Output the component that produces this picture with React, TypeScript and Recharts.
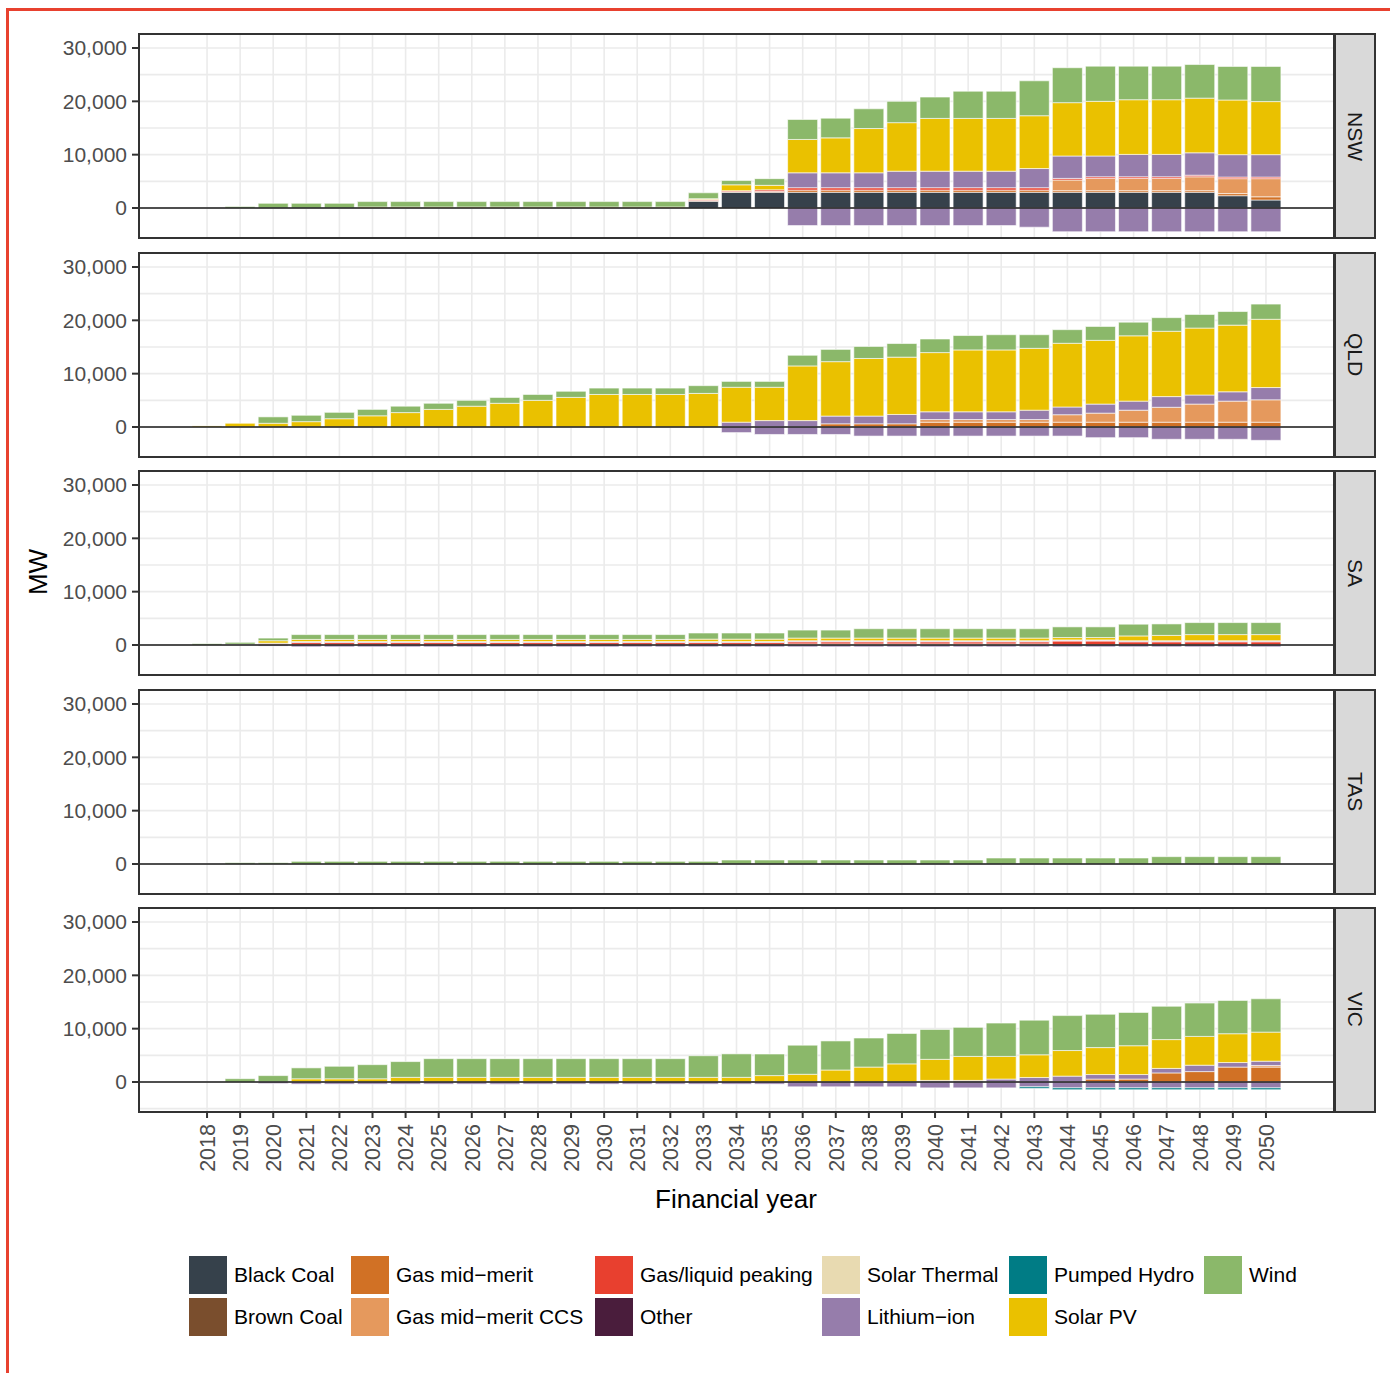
import React from 'react';
import {
  BarChart,
  Bar,
  XAxis,
  YAxis,
  CartesianGrid,
  ReferenceLine,
} from 'recharts';

// financial years 2018..2050
const YEARS = [
  2018, 2019, 2020, 2021, 2022, 2023, 2024, 2025, 2026, 2027, 2028,
  2029, 2030, 2031, 2032, 2033, 2034, 2035, 2036, 2037, 2038, 2039,
  2040, 2041, 2042, 2043, 2044, 2045, 2046, 2047, 2048, 2049, 2050,
];

const Z11 = [0, 0, 0, 0, 0, 0, 0, 0, 0, 0, 0];

// ---- NSW (MW) ----
const nswBlackCoal = [
  ...Z11,
  0, 0, 0, 0, 1250, 2950, 2950, 2950, 2950, 2950, 2950,
  2950, 2950, 2950, 2950, 2950, 2950, 2950, 2950, 2950, 2300, 1500,
];
const nswGasMid = [
  ...Z11,
  0, 0, 0, 0, 150, 100, 150, 400, 400, 400, 400,
  400, 400, 400, 400, 300, 300, 300, 300, 300, 400, 600,
];
const nswGasCcs = [
  ...Z11, ...Z11,
  0, 0, 0, 0, 2000, 2300, 2300, 2300, 2600, 2800, 3400,
];
const nswPeaking = [
  ...Z11,
  0, 0, 0, 0, 200, 200, 300, 450, 450, 450, 450,
  450, 450, 450, 450, 300, 300, 300, 300, 300, 300, 300,
];
const nswLithium = [
  ...Z11,
  0, 0, 0, 0, 0, 0, 0, 2800, 2800, 2800, 3100,
  3100, 3100, 3100, 3600, 4200, 3900, 4200, 4200, 4200, 4200, 4200,
];
const nswSolarPv = [
  0, 0, 0, 0, 0, 200, 200, 200, 200, 200, 200,
  200, 200, 200, 200, 150, 1100, 850, 6250, 6550, 8300, 9100,
  9900, 9900, 9900, 9900, 10000, 10250, 10250, 10250, 10250, 10250, 9950,
];
const nswWind = [
  0, 300, 875, 875, 875, 1000, 1000, 1000, 1000, 1000, 1000,
  1000, 1000, 1000, 1000, 1100, 800, 1250, 3750, 3700, 3700, 4000,
  4000, 5100, 5100, 6550, 6550, 6600, 6300, 6300, 6300, 6300, 6600,
];
const nswLithiumNeg = [
  ...Z11,
  0, 0, 0, 0, 0, 0, 0, -3300, -3300, -3300, -3300,
  -3300, -3300, -3300, -3600, -4450, -4450, -4450, -4450, -4450, -4450, -4450,
];

// ---- QLD ----
const qldGasMid = [
  ...Z11,
  0, 0, 0, 0, 0, 0, 0, 0, 600, 600, 600,
  900, 900, 900, 900, 900, 900, 900, 900, 900, 900, 900,
];
const qldGasCcs = [
  ...Z11, ...Z11,
  500, 500, 500, 500, 1400, 1700, 2250, 2800, 3400, 3950, 4200,
];
const qldLithium = [
  ...Z11,
  0, 0, 0, 0, 0, 900, 1200, 1200, 1450, 1450, 1750,
  1450, 1450, 1450, 1750, 1450, 1700, 1700, 2000, 1700, 1750, 2300,
];
const qldSolarPv = [
  200, 700, 700, 1000, 1550, 2100, 2700, 3300, 3900, 4450, 5000,
  5550, 6100, 6100, 6100, 6300, 6550, 6250, 10250, 10200, 10800, 10750,
  11100, 11600, 11600, 11600, 11950, 11950, 12250, 12250, 12550, 12500, 12800,
];
const qldWind = [
  0, 0, 1200, 1200, 1200, 1200, 1200, 1150, 1100, 1100, 1100,
  1150, 1200, 1200, 1200, 1450, 1100, 1100, 2000, 2300, 2250, 2550,
  2550, 2700, 2850, 2550, 2550, 2600, 2550, 2550, 2550, 2550, 2850,
];
const qldLithiumNeg = [
  ...Z11,
  0, 0, 0, 0, 0, -1050, -1400, -1400, -1400, -1700, -1700,
  -1700, -1700, -1700, -1700, -1700, -2000, -2000, -2300, -2300, -2300, -2500,
];

// ---- SA ----
const saPeaking = [
  0, 0, 200, 450, 450, 450, 450, 450, 450, 450, 450,
  450, 450, 450, 450, 450, 450, 450, 400, 400, 400, 400,
  400, 400, 400, 400, 750, 750, 600, 600, 600, 600, 600,
];
const saOther = [
  0, 0, 0, 100, 100, 100, 100, 100, 100, 100, 100,
  100, 100, 100, 100, 100, 100, 100, 100, 100, 100, 100,
  100, 100, 100, 100, 100, 100, 100, 100, 100, 100, 100,
];
const saGasCcs = [
  ...Z11,
  0, 0, 0, 0, 0, 0, 0, 200, 200, 200, 200,
  200, 200, 200, 200, 0, 0, 0, 0, 0, 0, 0,
];
const saLithium = [
  0, 150, 150, 100, 100, 100, 100, 100, 100, 100, 100,
  100, 100, 100, 100, 100, 100, 100, 100, 100, 100, 100,
  100, 100, 100, 100, 100, 100, 100, 100, 100, 100, 100,
];
const saSolarPv = [
  0, 0, 450, 400, 400, 400, 400, 400, 400, 400, 400,
  400, 400, 400, 400, 450, 450, 450, 500, 500, 500, 500,
  500, 500, 500, 500, 450, 450, 900, 1000, 1150, 1150, 1150,
];
const saWind = [
  250, 350, 500, 900, 900, 900, 900, 900, 900, 900, 900,
  900, 900, 900, 900, 1150, 1150, 1150, 1500, 1500, 1750, 1750,
  1750, 1750, 1750, 1750, 2000, 2000, 2200, 2150, 2250, 2250, 2250,
];
const saLithiumNeg = [
  0, 0, -200, -350, -350, -350, -350, -350, -350, -350, -350,
  -350, -350, -350, -350, -350, -350, -350, -350, -350, -350, -350,
  -350, -350, -350, -350, -350, -350, -350, -350, -350, -350, -350,
];

// ---- TAS ----
const tasWind = [
  0, 250, 250, 500, 500, 500, 500, 500, 500, 500, 500,
  500, 500, 500, 500, 500, 750, 750, 750, 750, 750, 750,
  750, 750, 1125, 1125, 1125, 1125, 1125, 1375, 1375, 1375, 1375,
];

// ---- VIC ----
const vicGasMid = [
  ...Z11, ...Z11,
  0, 0, 0, 0, 0, 550, 550, 1700, 1950, 2800, 2800,
];
const vicGasCcs = [
  ...Z11, ...Z11,
  0, 0, 0, 0, 0, 0, 0, 0, 0, 0, 300,
];
const vicLithium = [
  ...Z11, ...Z11,
  300, 300, 550, 850, 1100, 850, 850, 850, 1200, 850, 800,
];
const vicSolarPv = [
  0, 0, 0, 600, 600, 600, 875, 875, 875, 875, 875,
  875, 875, 875, 875, 875, 875, 1200, 1450, 2250, 2800, 3400,
  3950, 4500, 4250, 4250, 4800, 5050, 5400, 5400, 5400, 5400, 5450,
];
const vicWind = [
  0, 625, 1200, 2050, 2350, 2650, 2950, 3500, 3500, 3500, 3500,
  3500, 3500, 3500, 3500, 4050, 4400, 4050, 5450, 5450, 5450, 5700,
  5600, 5450, 6250, 6500, 6550, 6250, 6250, 6250, 6250, 6250, 6250,
];
const vicLithiumNeg = [
  0, 0, -300, -400, -400, -400, -400, -400, -400, -400, -400,
  -400, -400, -400, -400, -400, -400, -400, -900, -900, -900, -900,
  -1100, -1100, -1100, -900, -1100, -1100, -1100, -1100, -1100, -1100, -1100,
];
const vicPumpedNeg = [
  ...Z11, ...Z11,
  0, 0, 0, -300, -350, -350, -350, -350, -350, -350, -350,
];

const SERIES = [
  { key: 'blackCoal', name: 'Black Coal', color: '#36414b' },
  { key: 'brownCoal', name: 'Brown Coal', color: '#7a4e2d' },
  { key: 'gasMid', name: 'Gas mid\u2212merit', color: '#d17125' },
  { key: 'gasCcs', name: 'Gas mid\u2212merit CCS', color: '#e5995d' },
  { key: 'peaking', name: 'Gas/liquid peaking', color: '#e8402f' },
  { key: 'other', name: 'Other', color: '#4a1d3c' },
  { key: 'solarThermal', name: 'Solar Thermal', color: '#e8dab1' },
  { key: 'lithium', name: 'Lithium\u2212ion', color: '#967dab' },
  { key: 'pumped', name: 'Pumped Hydro', color: '#007c85' },
  { key: 'solarPv', name: 'Solar PV', color: '#eac100' },
  { key: 'wind', name: 'Wind', color: '#8bb86a' },
  { key: 'lithiumNeg', name: 'Lithium\u2212ion', color: '#967dab', hidden: true },
  { key: 'pumpedNeg', name: 'Pumped Hydro', color: '#007c85', hidden: true },
];

const makeRows = (s: Record<string, number[]>) =>
  YEARS.map((y, i) => {
    const row: Record<string, number | string> = { year: String(y) };
    SERIES.forEach((ser) => {
      row[ser.key] = s[ser.key] ? s[ser.key][i] : 0;
    });
    return row;
  });

const REGIONS = [
  {
    label: 'NSW',
    rows: makeRows({
      blackCoal: nswBlackCoal, gasMid: nswGasMid, gasCcs: nswGasCcs, peaking: nswPeaking,
      lithium: nswLithium, solarPv: nswSolarPv, wind: nswWind, lithiumNeg: nswLithiumNeg,
    }),
  },
  {
    label: 'QLD',
    rows: makeRows({
      gasMid: qldGasMid, gasCcs: qldGasCcs, lithium: qldLithium, solarPv: qldSolarPv,
      wind: qldWind, lithiumNeg: qldLithiumNeg,
    }),
  },
  {
    label: 'SA',
    rows: makeRows({
      peaking: saPeaking, other: saOther, gasCcs: saGasCcs, lithium: saLithium,
      solarPv: saSolarPv, wind: saWind, lithiumNeg: saLithiumNeg,
    }),
  },
  { label: 'TAS', rows: makeRows({ wind: tasWind }) },
  {
    label: 'VIC',
    rows: makeRows({
      gasMid: vicGasMid, gasCcs: vicGasCcs, lithium: vicLithium, solarPv: vicSolarPv,
      wind: vicWind, lithiumNeg: vicLithiumNeg, pumpedNeg: vicPumpedNeg,
    }),
  },
];

const Y_TICKS = [0, 10000, 20000, 30000];
const GRID_Y = [-5000, 0, 5000, 10000, 15000, 20000, 25000, 30000];

// legend columns (ggplot fills by column, 2 rows)
const LEGEND_COLS = [
  { x: 188, items: ['blackCoal', 'brownCoal'] },
  { x: 350, items: ['gasMid', 'gasCcs'] },
  { x: 594, items: ['peaking', 'other'] },
  { x: 821, items: ['solarThermal', 'lithium'] },
  { x: 1008, items: ['pumped', 'solarPv'] },
  { x: 1203, items: ['wind'] },
];

const PANEL_H = 204;
const PANEL_TOPS = [34, 252.5, 471, 689.5, 908];
const fmt = (v: number) => v.toLocaleString('en-US');

const YearTick = (props: any) => {
  const { x, y, payload } = props;
  return (
    <text
      x={x}
      y={y + 4}
      transform={`rotate(-90, ${x}, ${y + 4})`}
      textAnchor="end"
      dy="0.36em"
      fill="#4d4d4d"
      fontSize={21.5}
    >
      {payload.value}
    </text>
  );
};

const Panel = ({ label, rows, top, showX }: any) => (
  <div style={{ position: 'absolute', left: 0, top }}>
    <BarChart
      width={1334}
      height={showX ? PANEL_H + 70 : PANEL_H}
      data={rows}
      stackOffset="sign"
      barCategoryGap={1.5}
      margin={{ top: 0, right: 0, bottom: 0, left: 0 }}
    >
      <CartesianGrid stroke="#ebebeb" strokeWidth={1.6} horizontalValues={GRID_Y} />
      <XAxis
        dataKey="year"
        hide={!showX}
        height={70}
        interval={0}
        padding={{ left: 51.5, right: 51.5 }}
        axisLine={false}
        tickSize={6}
        tickLine={{ stroke: '#333', strokeWidth: 2 }}
        tick={<YearTick />}
      />
      <YAxis
        width={139}
        type="number"
        domain={[-5625, 32625]}
        allowDataOverflow
        ticks={Y_TICKS}
        tickFormatter={fmt}
        axisLine={false}
        tickSize={7}
        tickMargin={5}
        tickLine={{ stroke: '#333', strokeWidth: 2 }}
        tick={{ fill: '#4d4d4d', fontSize: 21 }}
      />
      {SERIES.map((s) => (
        <Bar
          key={s.key}
          dataKey={s.key}
          stackId="a"
          fill={s.color}
          stroke="#ffffff"
          strokeWidth={0.6}
          isAnimationActive={false}
        />
      ))}
      <ReferenceLine y={0} stroke="#1a1a1a" strokeWidth={1.5} />
    </BarChart>
    <div
      style={{
        position: 'absolute', left: 138, top: -1, width: 1197, height: PANEL_H + 2,
        border: '2px solid #333', boxSizing: 'border-box', pointerEvents: 'none',
      }}
    />
    <div
      style={{
        position: 'absolute', left: 1334, top: -1, width: 42, height: PANEL_H + 2,
        border: '2px solid #333', boxSizing: 'border-box', background: '#d9d9d9',
        display: 'flex', alignItems: 'center', justifyContent: 'center',
      }}
    >
      <span style={{ writingMode: 'vertical-rl', fontSize: 21, color: '#1a1a1a' }}>{label}</span>
    </div>
  </div>
);

export default function App() {
  const byKey: Record<string, any> = {};
  SERIES.forEach((s) => { if (!s.hidden) byKey[s.key] = s; });
  return (
    <div
      style={{
        position: 'absolute', left: 0, top: 0, width: 1390, height: 1373,
        background: '#fff', fontFamily: '"Liberation Sans", Arial, sans-serif', overflow: 'hidden',
      }}
    >
      {/* red frame */}
      <div style={{ position: 'absolute', left: 6, top: 8, width: 1384, height: 3, background: '#e8412f' }} />
      <div style={{ position: 'absolute', left: 6, top: 8, width: 3, height: 1365, background: '#e8412f' }} />

      {REGIONS.map((r, i) => (
        <Panel key={r.label} label={r.label} rows={r.rows} top={PANEL_TOPS[i]} showX={i === REGIONS.length - 1} />
      ))}

      <div
        style={{
          position: 'absolute', left: 38, top: 572, transform: 'translate(-50%, -50%) rotate(-90deg)',
          fontSize: 26, color: '#000', whiteSpace: 'nowrap',
        }}
      >
        MW
      </div>
      <div
        style={{
          position: 'absolute', left: 736, top: 1199, transform: 'translate(-50%, -50%)',
          fontSize: 26, color: '#000', whiteSpace: 'nowrap',
        }}
      >
        Financial year
      </div>

      {LEGEND_COLS.map((col) =>
        col.items.map((k, row) => (
          <div
            key={k}
            style={{
              position: 'absolute', left: col.x, top: 1255 + row * 42, height: 39,
              display: 'flex', alignItems: 'center', whiteSpace: 'nowrap',
            }}
          >
            <div style={{ width: 38, height: 38, background: byKey[k].color, border: '1px solid #fff' }} />
            <span style={{ marginLeft: 6, fontSize: 21, color: '#000' }}>{byKey[k].name}</span>
          </div>
        ))
      )}
    </div>
  );
}
